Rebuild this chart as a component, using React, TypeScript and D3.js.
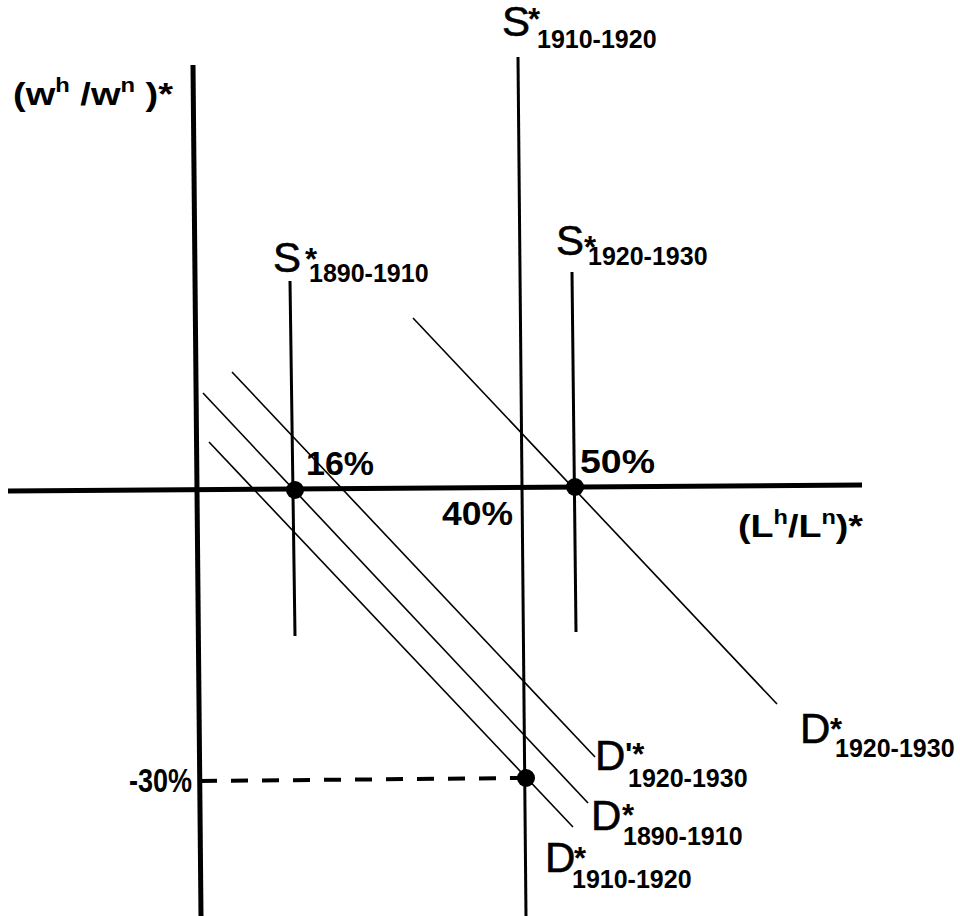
import React from "react";
import * as d3 from "d3";

// Conceptual coordinates (1 unit = small step), origin at axes crossing
const axisV = [[-0.5, 42.4], [0.3, -42.7]];
const axisH = [[-19, -0.2], [66.4, 0.4]];

const supplyPeriods = ["1890-1910", "1910-1920", "1920-1930"];
const supplyTop = [[9.2, 20.8], [32.0, 43.2], [37.4, 21.7]];
const supplyBottom = [[9.7, -14.7], [32.8, -42.7], [37.8, -14.3]];

const demandNames = ["D'*", "D*", "D*", "D*"];
const demandPeriods = ["1920-1930", "1890-1910", "1910-1920", "1920-1930"];
const demandStart = [[3.4, 11.7], [0.5, 9.6], [1.1, 4.7], [21.5, 17.1]];
const demandEnd = [[39.7, -26.8], [39.0, -31.4], [37.5, -33.8], [57.9, -21.5]];

const equilibria = [[9.7, -0.1], [37.7, 0.2], [32.8, -28.9]];
const dashedGuide = [[0.2, -29.2], [32.4, -28.9]];

const pctLabels = ["16%", "50%", "40%", "-30%"];

const FONT = "'Liberation Sans', Arial, sans-serif";

export default function App() {
  const x = d3.scaleLinear().domain([0, 10]).range([198, 298]);
  const y = d3.scaleLinear().domain([0, 10]).range([489, 389]);
  const line = d3
    .line<number[]>()
    .x((d) => x(d[0]))
    .y((d) => y(d[1]));

  const supplyLabelPos = [
    { sx: 273, sy: 272, stx: 305, sty: 270, subx: 309, suby: 282 },
    { sx: 502, sy: 36, stx: 528, sty: 30, subx: 537, suby: 48 },
    { sx: 556, sy: 255, stx: 584, sty: 258, subx: 588, suby: 265 },
  ];
  const demandLabelPos = [
    { dx: 595, dy: 770, stx: 625, sty: 765, subx: 628, suby: 787 },
    { dx: 591, dy: 830, stx: 622, sty: 826, subx: 623, suby: 845 },
    { dx: 545, dy: 872, stx: 574, sty: 869, subx: 572, suby: 888 },
    { dx: 800, dy: 743, stx: 830, sty: 740, subx: 835, suby: 757 },
  ];
  const pctPos = [
    { px: 306, py: 475, w: 68 },
    { px: 580, py: 473, w: 75 },
    { px: 442, py: 525, w: 71 },
    { px: 129, py: 792, w: 63 },
  ];

  const heavy = { stroke: "#000", strokeWidth: 0.6 };

  return (
    <svg
      width={960}
      height={916}
      style={{ position: "absolute", left: 0, top: 0, background: "#fff" }}
      fontFamily={FONT}
    >
      <rect width={960} height={916} fill="#fff" />
      {/* axes */}
      <path d={line(axisV) || ""} stroke="#000" strokeWidth={5} fill="none" />
      <path d={line(axisH) || ""} stroke="#000" strokeWidth={5} fill="none" />

      {/* demand curves */}
      {demandStart.map((s, i) => (
        <path
          key={"d" + i}
          d={line([s, demandEnd[i]]) || ""}
          stroke="#000"
          strokeWidth={1.6}
          fill="none"
        />
      ))}

      {/* supply curves */}
      {supplyTop.map((t, i) => (
        <path
          key={"s" + i}
          d={line([t, supplyBottom[i]]) || ""}
          stroke="#000"
          strokeWidth={3}
          fill="none"
        />
      ))}

      {/* dashed guide */}
      <path
        d={line(dashedGuide) || ""}
        stroke="#000"
        strokeWidth={4}
        strokeDasharray="17 14"
        fill="none"
      />

      {/* equilibrium points */}
      {equilibria.map((p, i) => (
        <circle key={"e" + i} cx={x(p[0])} cy={y(p[1])} r={9} fill="#000" />
      ))}

      {/* supply labels */}
      {supplyPeriods.map((p, i) => {
        const L = supplyLabelPos[i];
        return (
          <g key={"sl" + i}>
            <text x={L.sx} y={L.sy} fontSize={42} {...heavy}>S</text>
            <text x={L.stx} y={L.sty} fontSize={31} fontWeight="bold">*</text>
            <text x={L.subx} y={L.suby} fontSize={25} fontWeight="bold">{p}</text>
          </g>
        );
      })}

      {/* demand labels */}
      {demandPeriods.map((p, i) => {
        const L = demandLabelPos[i];
        const nm = demandNames[i];
        return (
          <g key={"dl" + i}>
            <text x={L.dx} y={L.dy} fontSize={42} {...heavy}>D</text>
            <text x={L.stx} y={L.sty} fontSize={31} fontWeight="bold">{nm.slice(1)}</text>
            <text x={L.subx} y={L.suby} fontSize={25} fontWeight="bold">{p}</text>
          </g>
        );
      })}

      {/* percent labels */}
      {pctLabels.map((t, i) => (
        <text
          key={"p" + i}
          x={pctPos[i].px}
          y={pctPos[i].py}
          fontSize={34}
          fontWeight="bold"
          textLength={pctPos[i].w}
          lengthAdjust="spacingAndGlyphs"
        >
          {t}
        </text>
      ))}

      {/* axis titles */}
      <text
        x={13}
        y={105}
        fontSize={32}
        fontWeight="bold"
        textLength={160}
        lengthAdjust="spacingAndGlyphs"
      >
        (w<tspan dy={-13} fontSize={20}>h</tspan>
        <tspan dy={13}> /w</tspan>
        <tspan dy={-13} fontSize={20}>n</tspan>
        <tspan dy={13}> )*</tspan>
      </text>
      <text
        x={738}
        y={537}
        fontSize={32}
        fontWeight="bold"
        textLength={125}
        lengthAdjust="spacingAndGlyphs"
      >
        (L<tspan dy={-13} fontSize={20}>h</tspan>
        <tspan dy={13}>/L</tspan>
        <tspan dy={-13} fontSize={20}>n</tspan>
        <tspan dy={13}>)*</tspan>
      </text>
    </svg>
  );
}
